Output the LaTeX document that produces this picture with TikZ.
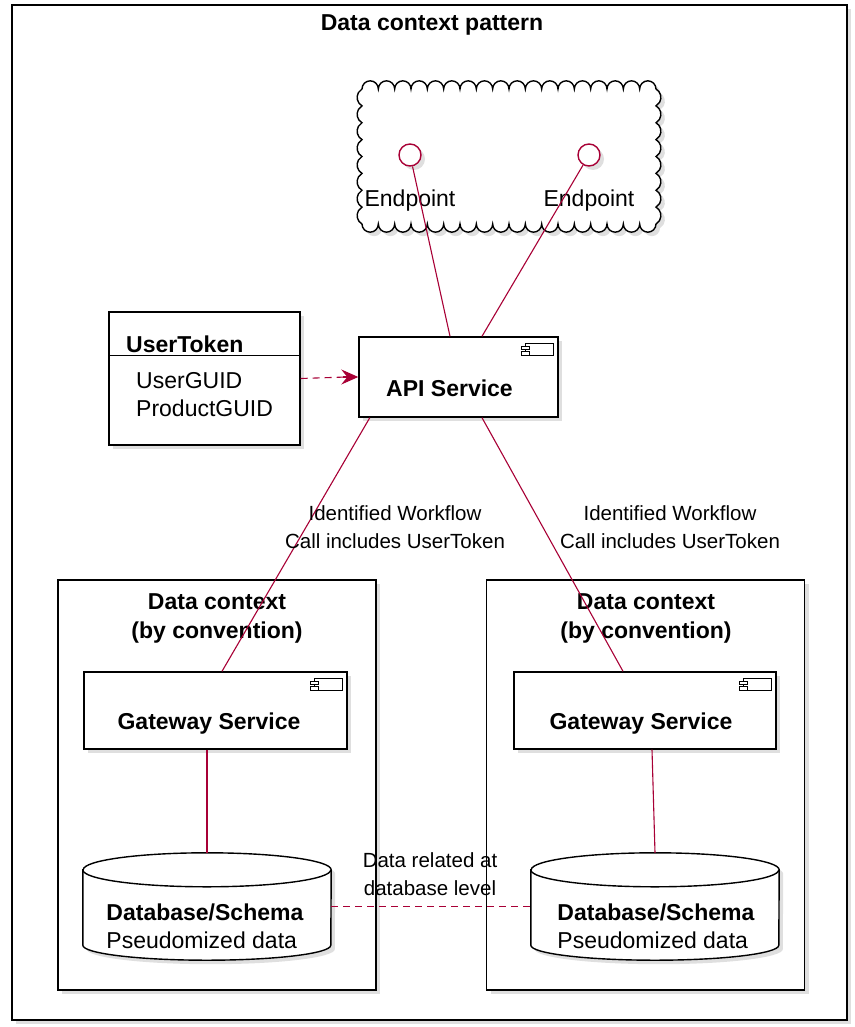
\documentclass[tikz,border=0pt]{standalone}
\usepackage{fontspec}
\setmainfont{Liberation Sans}
\usetikzlibrary{arrows.meta}
\usetikzlibrary{shadows}

\definecolor{umlred}{HTML}{A80036}

\begin{document}
\begin{tikzpicture}[x = 1pt, y = 1pt]
	\tikzstyle{umlShadow} = [drop shadow = {shadow xshift = 4pt, shadow yshift = -4pt, opacity = 0.25}]
	\tikzstyle{boxStyle} = [draw, line width = 1.4pt, fill = white, umlShadow, inner sep = 0pt]
	\tikzstyle{textStyle} = [font = \fontsize{23}{28}\selectfont, inner sep = 0pt]
	\tikzstyle{titleStyle} = [font = \bfseries\fontsize{23}{29}\selectfont, inner sep = 0pt, align = center]
	\tikzstyle{labelStyle} = [font = \fontsize{20.5}{28}\selectfont, inner sep = 0pt, align = center]
	\tikzstyle{linkStyle} = [umlred, line width = 1.1pt]
	\tikzstyle{dashStyle} = [linkStyle, dash pattern = on 7pt off 5pt]
	\tikzstyle{iconStyle} = [draw, line width = 1pt, fill = white]
	\tikzstyle{pointStyle} = [circle, draw = umlred, line width = 1.4pt, fill = white, minimum size = 22pt, inner sep = 0pt, umlShadow]
	\useasboundingbox (0,0) rectangle (854,-1027);
	% frame
	\node[boxStyle, minimum width = 835pt, minimum height = 1015pt] (frame) at (429.5,-512.5) {};
	\node[titleStyle] (frameTitle) at (432,-25) {Data context pattern};
	% cloud with the endpoints
	\path[draw, line width = 1.4pt, fill = white, umlShadow] (362,-89)
		\foreach \i in {1,...,18} {arc[start angle = 180, end angle = 0, radius = 8.1667pt]}
		\foreach \i in {1,...,8} {arc[start angle = 60, end angle = -60, radius = 9.743pt]}
		\foreach \i in {1,...,18} {arc[start angle = 0, end angle = -180, radius = 8.1667pt]}
		\foreach \i in {1,...,8} {arc[start angle = 240, end angle = 120, radius = 9.743pt]} -- cycle;
	\node[pointStyle] (ep1) at (410,-155) {};
	\node[pointStyle] (ep2) at (589,-155) {};
	\node[textStyle] (ep1Label) at (410,-201) {Endpoint};
	\node[textStyle] (ep2Label) at (589,-201) {Endpoint};
	% user token
	\node[boxStyle, minimum width = 191pt, minimum height = 133pt] (token) at (204.5,-378.5) {};
	\draw[line width = 1.4pt] ([yshift = -44pt]token.north west) -- ([yshift = -44pt]token.north east);
	\node[titleStyle, anchor = west] (tokenTitle) at (126,-344) {UserToken};
	\node[textStyle, align = left, anchor = west] (tokenAttr) at (136,-395) {UserGUID\\ProductGUID};
	% api service
	\node[boxStyle, minimum width = 199pt, minimum height = 80pt] (api) at (458.5,-377) {};
	\node[titleStyle] (apiText) at ([xshift = -9pt, yshift = -11pt]api.center) {API Service};
	% data contexts
	\node[boxStyle, minimum width = 318pt, minimum height = 410pt] (ctx1) at (217,-785) {};
	\node[boxStyle, minimum width = 318pt, minimum height = 410pt] (ctx2) at (645.5,-785) {};
	\node[titleStyle] (ctx1Title) at (217,-618) {Data context\\(by convention)};
	\node[titleStyle] (ctx2Title) at (646,-618) {Data context\\(by convention)};
	\node[boxStyle, minimum width = 263pt, minimum height = 77pt] (gw1) at (215.5,-710.5) {};
	\node[boxStyle, minimum width = 262pt, minimum height = 77pt] (gw2) at (645,-710.5) {};
	\node[titleStyle] (gw1Text) at ([xshift = -6.5pt, yshift = -13pt]gw1.center) {Gateway Service};
	\node[titleStyle] (gw2Text) at ([xshift = -4pt, yshift = -13pt]gw2.center) {Gateway Service};
	\foreach \n in {api, gw1, gw2} {
		\draw[iconStyle] ([shift = {(-33,-7)}]\n.north east) rectangle ([shift = {(-5,-19)}]\n.north east);
		\draw[iconStyle] ([shift = {(-37,-10)}]\n.north east) rectangle ([shift = {(-29,-13.5)}]\n.north east);
		\draw[iconStyle] ([shift = {(-37,-15.5)}]\n.north east) rectangle ([shift = {(-29,-19)}]\n.north east);
	}
	% databases
	\node[minimum width = 248pt, minimum height = 107pt, inner sep = 0pt] (db1) at (207,-906.5) {};
	\node[minimum width = 248pt, minimum height = 107pt, inner sep = 0pt] (db2) at (655,-906.5) {};
	\foreach \n in {db1, db2} {
		\path[draw, line width = 1.4pt, fill = white, umlShadow] ([yshift = -17pt]\n.north west) -- ([yshift = 15pt]\n.south west)
			arc[start angle = 180, end angle = 360, x radius = 124pt, y radius = 15pt] -- ([yshift = -17pt]\n.north east)
			arc[start angle = 0, end angle = 180, x radius = 124pt, y radius = 17pt] -- cycle;
		\draw[line width = 1.4pt] ([yshift = -17pt]\n.north west) arc[start angle = 180, end angle = 360, x radius = 124pt, y radius = 17pt];
	}
	\node[textStyle, align = left] (db1Text) at (205,-926) {\textbf{Database/Schema}\\Pseudomized data};
	\node[textStyle, align = left] (db2Text) at (656,-926) {\textbf{Database/Schema}\\Pseudomized data};
	% connectors
	\draw[dashStyle] (token.east) -- ([xshift = -12pt]api.west);
	\draw[linkStyle, -{Stealth[length = 17pt, width = 15pt, inset = 6pt]}] ([xshift = -15pt]api.west) -- (api.west);
	\draw[linkStyle] (ep1) -- ([xshift = -8.5pt]api.north);
	\draw[linkStyle] (ep2) -- ([xshift = 23.5pt]api.north);
	\draw[linkStyle] ([xshift = 11.5pt]api.south west) -- ([xshift = 6.5pt]gw1.north);
	\draw[linkStyle] ([xshift = 23.5pt]api.south) -- ([xshift = -22pt]gw2.north);
	\draw[linkStyle] (gw1.south -| db1.north) -- (db1.north);
	\draw[linkStyle] ([xshift = 7pt]gw2.south) -- (db2.north);
	\draw[dashStyle] (db1.east) -- (db2.west);
	\node[labelStyle] (apiGw1Label) at (395,-527) {Identified Workflow\\Call includes UserToken};
	\node[labelStyle] (apiGw2Label) at (670,-527) {Identified Workflow\\Call includes UserToken};
	\node[labelStyle] (dbLinkLabel) at (430,-874) {Data related at\\database level};
\end{tikzpicture}
\end{document}
